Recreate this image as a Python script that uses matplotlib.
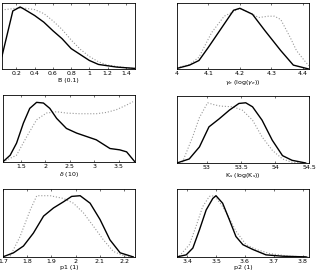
import matplotlib.pyplot as plt
from matplotlib.ticker import FormatStrFormatter

# B (0.1)
b_x = [0.04, 0.16, 0.2, 0.24, 0.28, 0.4, 0.5, 0.6, 0.7, 0.8, 0.9, 1.0, 1.1, 1.2, 1.3, 1.4, 1.5]
b_post = [0.19, 0.88, 0.91, 0.94, 0.91, 0.81, 0.71, 0.58, 0.46, 0.31, 0.22, 0.13, 0.07, 0.05, 0.03, 0.02, 0.01]
b_px = [0.07, 0.2, 0.3, 0.4, 0.5, 0.6, 0.7, 0.8, 0.9, 1.0, 1.1, 1.2, 1.3, 1.4, 1.5]
b_prior = [0.9, 0.92, 0.92, 0.9, 0.84, 0.73, 0.6, 0.44, 0.3, 0.19, 0.11, 0.06, 0.04, 0.02, 0.01]

# gamma_e
g_x = [4.0, 4.04, 4.07, 4.1, 4.15, 4.18, 4.2, 4.24, 4.28, 4.33, 4.37, 4.42]
g_post = [0.01, 0.06, 0.13, 0.33, 0.68, 0.89, 0.92, 0.83, 0.58, 0.28, 0.06, 0.0]
g_px = [4.0, 4.04, 4.07, 4.11, 4.15, 4.18, 4.2, 4.24, 4.26, 4.29, 4.31, 4.33, 4.36, 4.38, 4.41, 4.42]
g_prior = [0.02, 0.07, 0.18, 0.55, 0.8, 0.87, 0.92, 0.83, 0.78, 0.8, 0.8, 0.75, 0.48, 0.28, 0.1, 0.05]

# delta
d_x = [1.13, 1.28, 1.41, 1.55, 1.68, 1.82, 1.96, 2.09, 2.23, 2.43, 2.64, 2.84, 3.04, 3.32, 3.52, 3.66, 3.83]
d_post = [0.0, 0.1, 0.28, 0.58, 0.8, 0.89, 0.88, 0.8, 0.65, 0.5, 0.43, 0.38, 0.33, 0.2, 0.18, 0.15, 0.0]
d_px = [1.13, 1.41, 1.62, 1.82, 2.02, 2.23, 2.43, 2.7, 3.04, 3.25, 3.45, 3.66, 3.79]
d_prior = [0.0, 0.1, 0.38, 0.63, 0.73, 0.75, 0.73, 0.72, 0.72, 0.74, 0.78, 0.85, 0.9]

# K_s
k_x = [52.56, 52.74, 52.89, 53.03, 53.18, 53.33, 53.47, 53.57, 53.67, 53.81, 53.96, 54.11, 54.25, 54.45]
k_post = [0.0, 0.06, 0.24, 0.54, 0.66, 0.79, 0.89, 0.9, 0.84, 0.64, 0.34, 0.11, 0.04, 0.0]
k_px = [52.64, 52.79, 52.89, 53.01, 53.11, 53.2, 53.38, 53.52, 53.67, 53.81, 53.96, 54.11, 54.25, 54.45]
k_prior = [0.01, 0.39, 0.68, 0.9, 0.87, 0.85, 0.84, 0.79, 0.64, 0.39, 0.19, 0.06, 0.01, 0.0]

# p1
p1_x = [1.7, 1.744, 1.785, 1.826, 1.868, 1.909, 1.95, 1.984, 2.019, 2.06, 2.101, 2.142, 2.184, 2.238]
p1_post = [0.0, 0.06, 0.16, 0.35, 0.6, 0.72, 0.81, 0.89, 0.9, 0.79, 0.55, 0.25, 0.06, 0.0]
p1_px = [1.73, 1.771, 1.813, 1.84, 1.895, 1.95, 1.991, 2.032, 2.074, 2.115, 2.156, 2.197, 2.24]
p1_prior = [0.01, 0.3, 0.69, 0.9, 0.9, 0.86, 0.79, 0.65, 0.45, 0.25, 0.08, 0.02, 0.0]

# p2
p2_x = [3.365, 3.397, 3.42, 3.443, 3.466, 3.489, 3.5, 3.523, 3.546, 3.569, 3.593, 3.627, 3.673, 3.731, 3.812]
p2_post = [0.0, 0.03, 0.13, 0.4, 0.69, 0.86, 0.9, 0.79, 0.55, 0.3, 0.18, 0.11, 0.03, 0.01, 0.0]
p2_px = [3.373, 3.408, 3.431, 3.454, 3.477, 3.495, 3.523, 3.546, 3.569, 3.604, 3.639, 3.685, 3.754, 3.82]
p2_prior = [0.01, 0.18, 0.45, 0.74, 0.89, 0.9, 0.74, 0.57, 0.38, 0.18, 0.11, 0.05, 0.01, 0.0]

panels = [
    (b_x, b_post, b_px, b_prior, (0.04, 1.5), [0.2, 0.4, 0.6, 0.8, 1.0, 1.2, 1.4], "B (0.1)"),
    (g_x, g_post, g_px, g_prior, (4.0, 4.42), [4.0, 4.1, 4.2, 4.3, 4.4], r"$\gamma_e$ (log($\gamma_e$))"),
    (d_x, d_post, d_px, d_prior, (1.13, 3.83), [1.5, 2.0, 2.5, 3.0, 3.5], r"$\delta$ (10)"),
    (k_x, k_post, k_px, k_prior, (52.56, 54.5), [53.0, 53.5, 54.0, 54.5], r"K$_s$ (log(K$_s$))"),
    (p1_x, p1_post, p1_px, p1_prior, (1.7, 2.245), [1.7, 1.8, 1.9, 2.0, 2.1, 2.2], "p1 (1)"),
    (p2_x, p2_post, p2_px, p2_prior, (3.365, 3.822), [3.4, 3.5, 3.6, 3.7, 3.8], "p2 (1)"),
]

# axes boxes in figure fractions (left, bottom, width, height)
boxes = [
    (0.006, 0.747, 0.421, 0.242),
    (0.560, 0.747, 0.418, 0.242),
    (0.009, 0.407, 0.418, 0.245),
    (0.560, 0.403, 0.418, 0.245),
    (0.009, 0.059, 0.418, 0.249),
    (0.560, 0.059, 0.418, 0.249),
]

fig = plt.figure(figsize=(3.16, 2.73), dpi=100)
for (x, y, px, py, xlim, ticks, label), box in zip(panels, boxes):
    ax = fig.add_axes(box)
    ax.plot(px, py, color="#999999", linestyle=":", linewidth=0.8)
    ax.plot(x, y, color="black", linewidth=1.0)
    ax.set_xlim(*xlim)
    ax.set_ylim(0, 1.0)
    ax.set_xticks(ticks)
    ax.xaxis.set_major_formatter(FormatStrFormatter("%g"))
    ax.set_yticks([])
    ax.tick_params(axis="x", direction="in", top=True, length=1.5, width=0.4,
                   labelsize=4.5, pad=1.5)
    ax.set_xlabel(label, fontsize=4.5, labelpad=1)
    for s in ax.spines.values():
        s.set_linewidth(0.6)

fig.savefig("out.png", dpi=100)
